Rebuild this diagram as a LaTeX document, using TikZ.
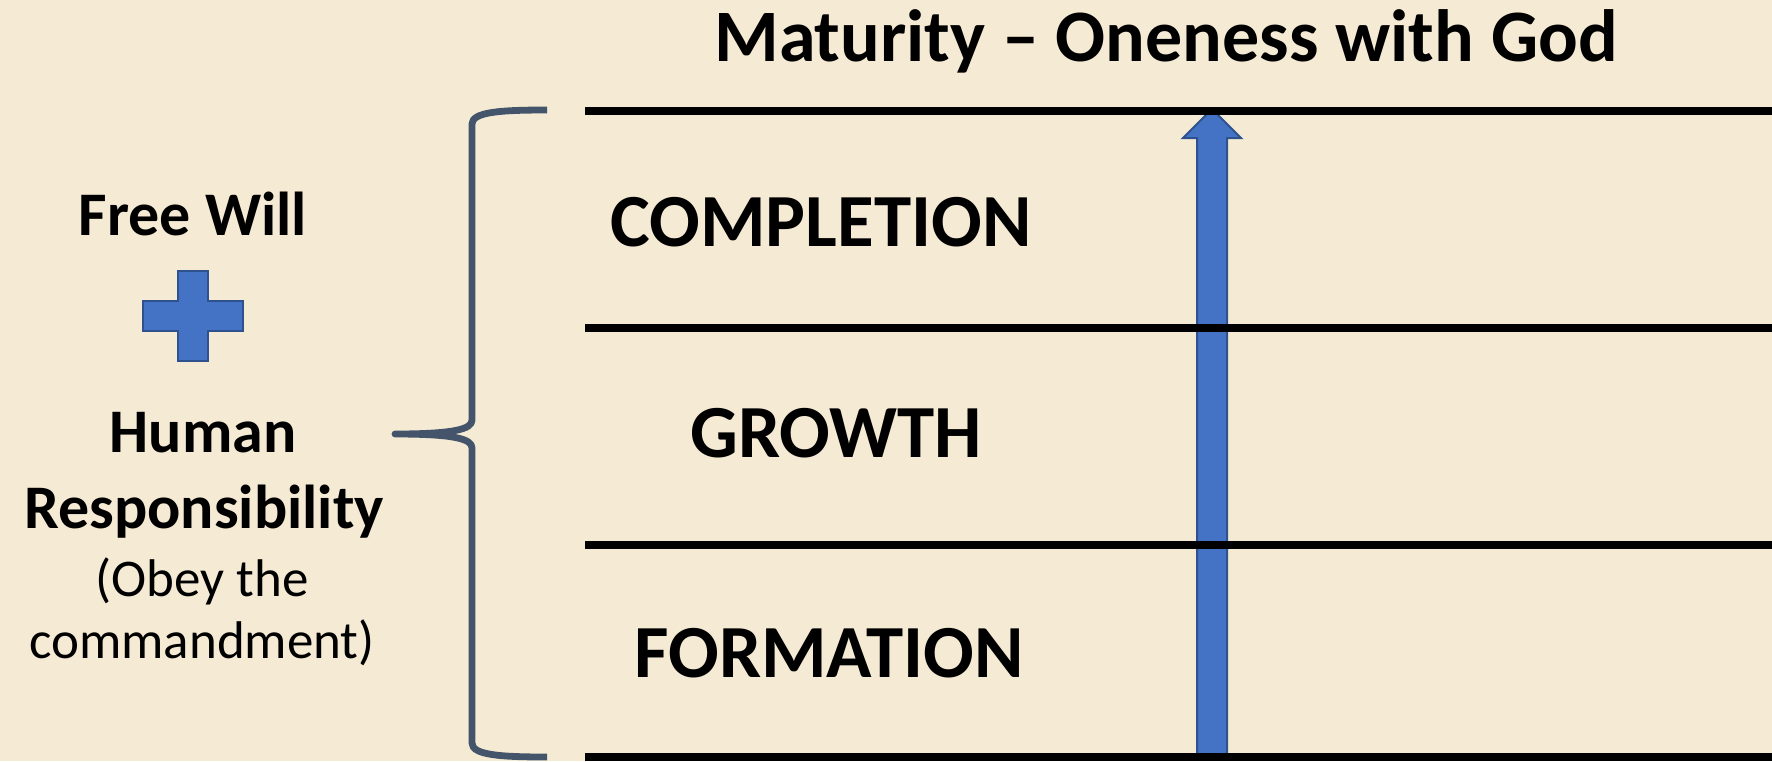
\documentclass[tikz,border=0pt]{standalone}
\usepackage{fontspec}
\setmainfont{Carlito}
\definecolor{bg}{HTML}{F5EAD4}
\definecolor{bluefill}{HTML}{4472C4}
\definecolor{blueline}{HTML}{2F528F}
\definecolor{bracecol}{HTML}{44546A}
\begin{document}
\begin{tikzpicture}[x=0.5pt,y=-0.5pt,
  txt/.style={inner sep=0pt,anchor=base},
  phase/.style={txt,font=\fontsize{37.5}{45}\selectfont\bfseries},
  lefttxt/.style={txt,font=\fontsize{31}{37}\selectfont\bfseries},
  smalltxt/.style={txt,font=\fontsize{26.5}{32}\selectfont},
  level/.style={line width=4pt,black},
  bluebox/.style={fill=bluefill,draw=blueline,line width=1pt,line join=miter}]
\useasboundingbox (0,0) rectangle (1772,761);
\fill[bg] (0,0) rectangle (1772,761);

% arrow
\draw[bluebox] (1197,757) -- (1197,138) -- (1183,138) -- (1212,109) -- (1241,138) -- (1227,138) -- (1227,757);

% level lines
\coordinate (l1a) at (585,111); \coordinate (l1b) at (1772,111);
\coordinate (l2a) at (585,328); \coordinate (l2b) at (1772,328);
\coordinate (l3a) at (585,545); \coordinate (l3b) at (1772,545);
\coordinate (l4a) at (585,757); \coordinate (l4b) at (1772,757);
\draw[level] (l1a) -- (l1b);
\draw[level] (l2a) -- (l2b);
\draw[level] (l3a) -- (l3b);
\draw[level] (l4a) -- (l4b);

% texts
\node[txt,font=\fontsize{37}{44}\selectfont\bfseries] (title) at (1166,61) {Maturity – Oneness with God};
\node[phase] (completion) at (821,246) {COMPLETION};
\node[phase] (growth) at (836,457) {GROWTH};
\node[phase] (formation) at (829,677) {FORMATION};

\node[lefttxt] (freewill) at (193,235) {Free Will};
\node[lefttxt] (human) at (203,452) {Human};
\node[lefttxt] (resp) at (204,528) {Responsibility};
\node[smalltxt] (obey) at (202,596) {(Obey the};
\node[smalltxt] (command) at (202,658) {commandment)};

% plus sign
\draw[bluebox] (178,271) -- (208,271) -- (208,301) -- (243,301) -- (243,331) -- (208,331) -- (208,361) -- (178,361) -- (178,331) -- (143,331) -- (143,301) -- (178,301) -- cycle;

% brace
\draw[bracecol,line width=3.4pt,line join=round]
  (547,110) .. controls (500,110) and (472,112) .. (472,124)
  -- (472,420) .. controls (472,429) and (455,434) .. (395,434)
  .. controls (455,434) and (472,439) .. (472,448)
  -- (472,743) .. controls (472,755) and (500,757) .. (547,757);
\end{tikzpicture}
\end{document}
